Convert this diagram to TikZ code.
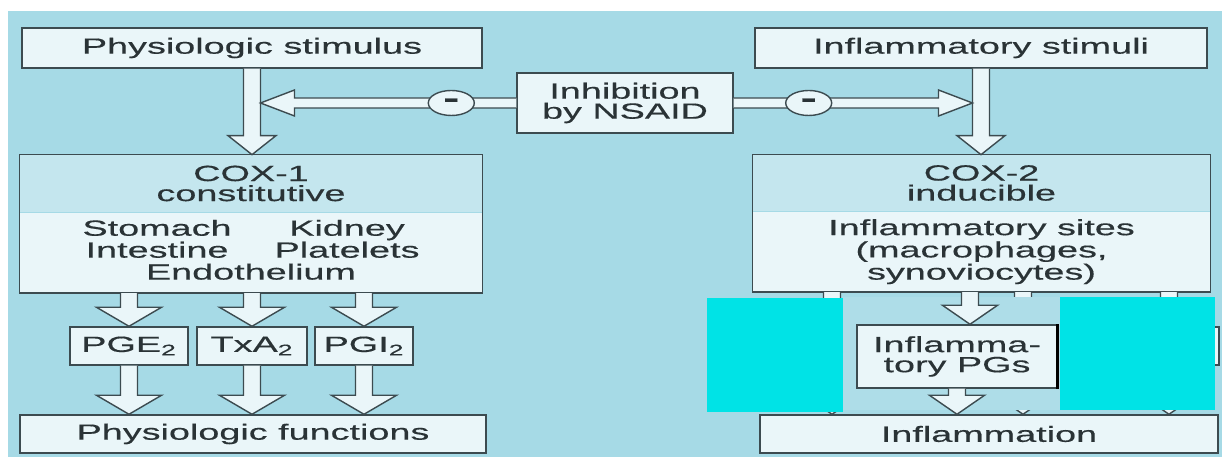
\documentclass[tikz,border=0pt]{standalone}
\usepackage{fontspec}
\setmainfont[FakeStretch=1.72,FakeBold=0.4]{Liberation Sans}
\usepackage{tikz}
\usetikzlibrary{shapes.geometric,positioning,calc}

\definecolor{bgblue}{HTML}{A6DAE6}
\definecolor{headblue}{HTML}{C4E6EE}
\definecolor{boxfill}{HTML}{EAF6F9}
\definecolor{edge}{HTML}{3C4B50}
\definecolor{txt}{HTML}{2A3336}
\definecolor{cyanred}{HTML}{00E3E6}
\definecolor{patch}{HTML}{AEDDE8}

\newcommand{\diag}{\fontsize{12.5}{11.4}\selectfont}

% hollow block arrow pointing down: [head half width]{start}{tip}
\newcommand{\fatdown}[3][0.55]{%
  \path[fat] let \p1=(#2), \p2=(#3) in
    (\x2-0.17cm,\y1) -- (\x2-0.17cm,\y2+0.38cm) -- ({\x2-#1cm},\y2+0.38cm)
    -- (\x2,\y2) -- ({\x2+#1cm},\y2+0.38cm) -- (\x2+0.17cm,\y2+0.38cm)
    -- (\x2+0.17cm,\y1);}
% hollow block arrow running sideways: {start}{tip}
\newcommand{\fatside}[2]{%
  \path[fat] let \p1=(#1), \p2=(#2), \n1={sign(\x2-\x1)} in
    (\x1,\y2+0.1cm) -- ({\x2-(\n1)*0.68cm},\y2+0.1cm) -- ({\x2-(\n1)*0.68cm},\y2+0.26cm)
    -- (\x2,\y2) -- ({\x2-(\n1)*0.68cm},\y2-0.26cm) -- ({\x2-(\n1)*0.68cm},\y2-0.1cm)
    -- (\x1,\y2-0.1cm);}

\begin{document}
\begin{tikzpicture}[
    box/.style={draw=edge, line width=0.8pt, fill=boxfill, inner sep=0pt, align=center, text=txt, font=\diag},
    band/.style={fill=headblue, inner sep=0pt, align=center, text=txt, font=\diag},
    sub/.style={fill=boxfill, inner sep=0pt, align=center, text=txt, font=\diag},
    fat/.style={draw=edge, line width=0.8pt, fill=boxfill},
    minus/.style={ellipse, draw=edge, line width=0.8pt, fill=boxfill, minimum width=0.92cm, minimum height=0.5cm, inner sep=0pt, text=txt, font=\bfseries\fontsize{16}{16}\selectfont},
    redact/.style={fill=cyanred}
]
    \useasboundingbox (0,0) rectangle (24.44,9.22);
    \fill[white] (0,0) rectangle (24.44,9.22);
    \fill[bgblue] (0.16,0.08) rectangle (24.44,9.0);

    % Stimuli and NSAID
    \node[box, minimum width=9.2cm, minimum height=0.8cm] (phys) at (5.04,8.26) {Physiologic stimulus};
    \node[box, minimum width=9.04cm, minimum height=0.8cm] (infl) at (19.62,8.26) {Inflammatory stimuli};
    \node[box, minimum width=4.32cm, minimum height=1.2cm] (nsaid) at (12.5,7.16) {Inhibition\\by NSAID};

    % COX-1
    \node[band, minimum width=9.24cm, minimum height=1.14cm] (cox1h) at (5.02,5.55) {COX-1\\constitutive};
    \node[sub, minimum width=9.24cm, minimum height=1.6cm, anchor=north] (cox1b) at (cox1h.south) {%
        \begin{tabular}{@{}c@{\hspace{0.86cm}}c@{}}
        Stomach & Kidney\\
        Intestine & Platelets\\
        \multicolumn{2}{c}{Endothelium}
        \end{tabular}};
    \draw[edge, line width=0.8pt] (cox1h.north west) rectangle (cox1b.south east);

    % COX-2
    \node[band, minimum width=9.14cm, minimum height=1.12cm] (cox2h) at (19.63,5.56) {COX-2\\inducible};
    \node[sub, minimum width=9.14cm, minimum height=1.6cm, anchor=north] (cox2b) at (cox2h.south) {Inflammatory sites\\(macrophages,\\synoviocytes)};
    \draw[edge, line width=0.8pt] (cox2h.north west) rectangle (cox2b.south east);

    % Prostanoids and outcomes
    \node[box, minimum width=2.36cm, minimum height=0.76cm] (pge) at (2.58,2.3) {PGE\textsubscript{2}};
    \node[box, minimum width=2.2cm, minimum height=0.76cm] (txa) at (5.04,2.3) {TxA\textsubscript{2}};
    \node[box, minimum width=1.96cm, minimum height=0.76cm] (pgi) at (7.28,2.3) {PGI\textsubscript{2}};
    \node[box, minimum width=9.32cm, minimum height=0.76cm] (func) at (5.06,0.54) {Physiologic functions};
    \node[box, minimum width=9.16cm, minimum height=0.76cm] (inflm) at (19.78,0.54) {Inflammation};

    % Block arrows
    \fatdown[0.48]{phys.south}{phys.south |- cox1h.north}
    \fatdown[0.48]{infl.south}{infl.south |- cox2h.north}
    \fatdown[0.65]{pge.north |- cox1b.south}{pge.north}
    \fatdown[0.65]{txa.north |- cox1b.south}{txa.north}
    \fatdown[0.65]{pgi.north |- cox1b.south}{pgi.north}
    \fatdown[0.65]{pge.south}{pge.south |- func.north}
    \fatdown[0.65]{txa.south}{txa.south |- func.north}
    \fatdown[0.65]{pgi.south}{pgi.south |- func.north}

    % Inhibition
    \coordinate (ltip) at ($(phys.south |- nsaid.west)+(0.17,0)$);
    \coordinate (rtip) at ($(infl.south |- nsaid.east)-(0.17,0)$);
    \fatside{nsaid.west}{ltip}
    \fatside{nsaid.east}{rtip}
    \node[minus] (minusL) at ($(nsaid.west)+(-1.3,0)$) {-};
    \node[minus] (minusR) at ($(nsaid.east)+(1.5,0)$) {-};

    % covered part of the COX-2 branch
    \coordinate (hid1) at (16.64,0);
    \coordinate (hid2) at (20.46,0);
    \coordinate (hid3) at (23.38,0);
    \fatdown{hid1 |- cox2b.south}{hid1 |- inflm.north}
    \fatdown{hid2 |- cox2b.south}{hid2 |- inflm.north}
    \fatdown{hid3 |- cox2b.south}{hid3 |- inflm.north}
    \node[box, minimum width=2.38cm, minimum height=0.76cm] (lost) at (23.19,2.3) {};
    \fill[redact] (14.14,3.26) rectangle (16.86,0.98);
    \fill[patch] (16.86,3.28) rectangle (21.2,1.02);
    \fill[redact] (21.2,3.28) rectangle (24.3,1.02);

    % Inflammatory PGs
    \node[box, minimum width=4.0cm, minimum height=1.26cm] (pgs) at (19.14,2.09) {Inflamma-\\tory PGs};
    \draw[black, line width=2pt] (pgs.north east) -- (pgs.south east);
    \coordinate (pgsin) at ($(pgs.north)+(0.26,0)$);
    \fatdown{pgsin |- cox2b.south}{pgsin}
    \fatdown{pgs.south}{pgs.south |- inflm.north}
\end{tikzpicture}
\end{document}
